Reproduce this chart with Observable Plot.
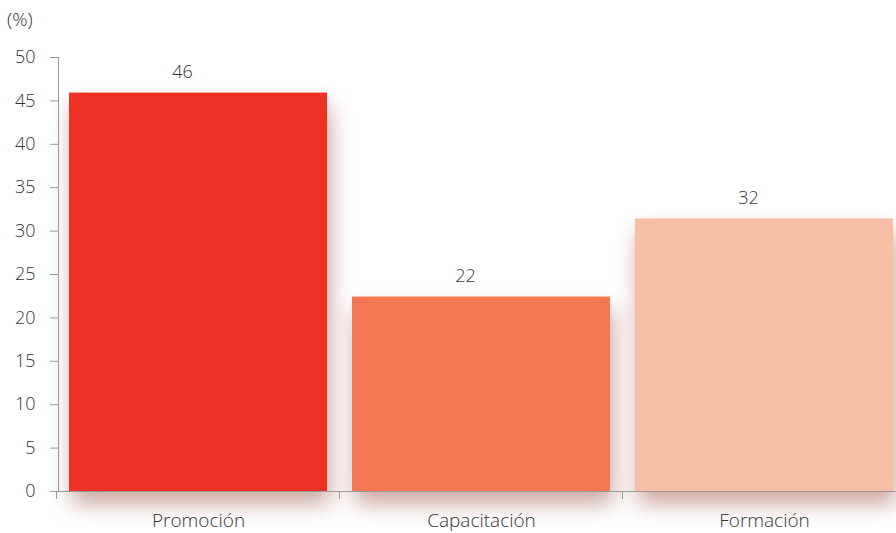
<!DOCTYPE html>
<html>
<head>
<meta charset="utf-8">
<script src="https://cdn.jsdelivr.net/npm/d3@7"></script>
<script src="https://cdn.jsdelivr.net/npm/@observablehq/plot@0.6"></script>
<style>
  body { margin: 0; background: #fff; font-family: "Open Sans", "Noto Sans", sans-serif; }
  #wrap { position: relative; width: 896px; height: 533px; overflow: hidden; }
  #unit { position: absolute; left: 7px; top: 6px; font-size: 19px; font-weight: 300; color: #333; }
</style>
</head>
<body>
<div id="wrap"><div id="unit">(%)</div></div>
<script>
const categories = ["Promoción", "Capacitación", "Formación"];
const values = [45.9, 22.4, 31.4];
const valueLabels = ["46", "22", "32"];
const colors = ["#EE3124", "#F37853", "#F9BEA6"];
const yTicks = [0, 5, 10, 15, 20, 25, 30, 35, 40, 45, 50];

const data = categories.map((c, i) => ({category: c, value: values[i], label: valueLabels[i], color: colors[i]}));

const plot = Plot.plot({
  width: 896,
  height: 533,
  marginTop: 57,
  marginBottom: 42,
  marginLeft: 58,
  marginRight: 0,
  style: {fontFamily: "'Open Sans', 'Noto Sans', sans-serif", fontSize: "17px", fontWeight: 300, color: "#333", overflow: "hidden"},
  x: {domain: categories, range: [56, 906], paddingInner: 0.09, paddingOuter: 0.045, label: null},
  y: {domain: [0, 50], label: null},
  marks: [
    Plot.barY(data, {x: "category", y: "value", fill: "color"}),
    Plot.text(data, {x: "category", y: "value", text: "label", dy: -21, dx: -16, fontSize: 18, fontWeight: 300, fill: "#333"}),
    Plot.ruleY([0], {stroke: "#999", strokeWidth: 1}),
    Plot.frame({anchor: "left", stroke: "#999"}),
    Plot.axisY({ticks: yTicks, tickSize: 8, tickPadding: 15, stroke: "#999", fill: "#333", fontSize: 18, fontWeight: 300, label: null}),
    Plot.axisX({tickSize: 0, tickPadding: 22, fill: "#333", fontSize: 19, fontWeight: 300, label: null})
  ]
});

// soft drop shadow on bars
plot.querySelectorAll('g[aria-label="bar"]').forEach(g => {
  g.style.filter = "drop-shadow(3px 13px 11px rgba(140, 60, 40, 0.45))";
});
// band boundary ticks on x axis
const x = plot.scale("x");
const yScale = plot.scale("y");
const svg = d3.select(plot);
const bw = x.bandwidth, step = x.step;
const boundaries = categories.map((c, i) => x.apply(c) - (step - bw) / 2);
svg.append("g").selectAll("line").data(boundaries).join("line")
  .attr("x1", d => d).attr("x2", d => d)
  .attr("y1", yScale.apply(0)).attr("y2", yScale.apply(0) + 8)
  .attr("stroke", "#999");
document.getElementById("wrap").appendChild(plot);
</script>
</body>
</html>
